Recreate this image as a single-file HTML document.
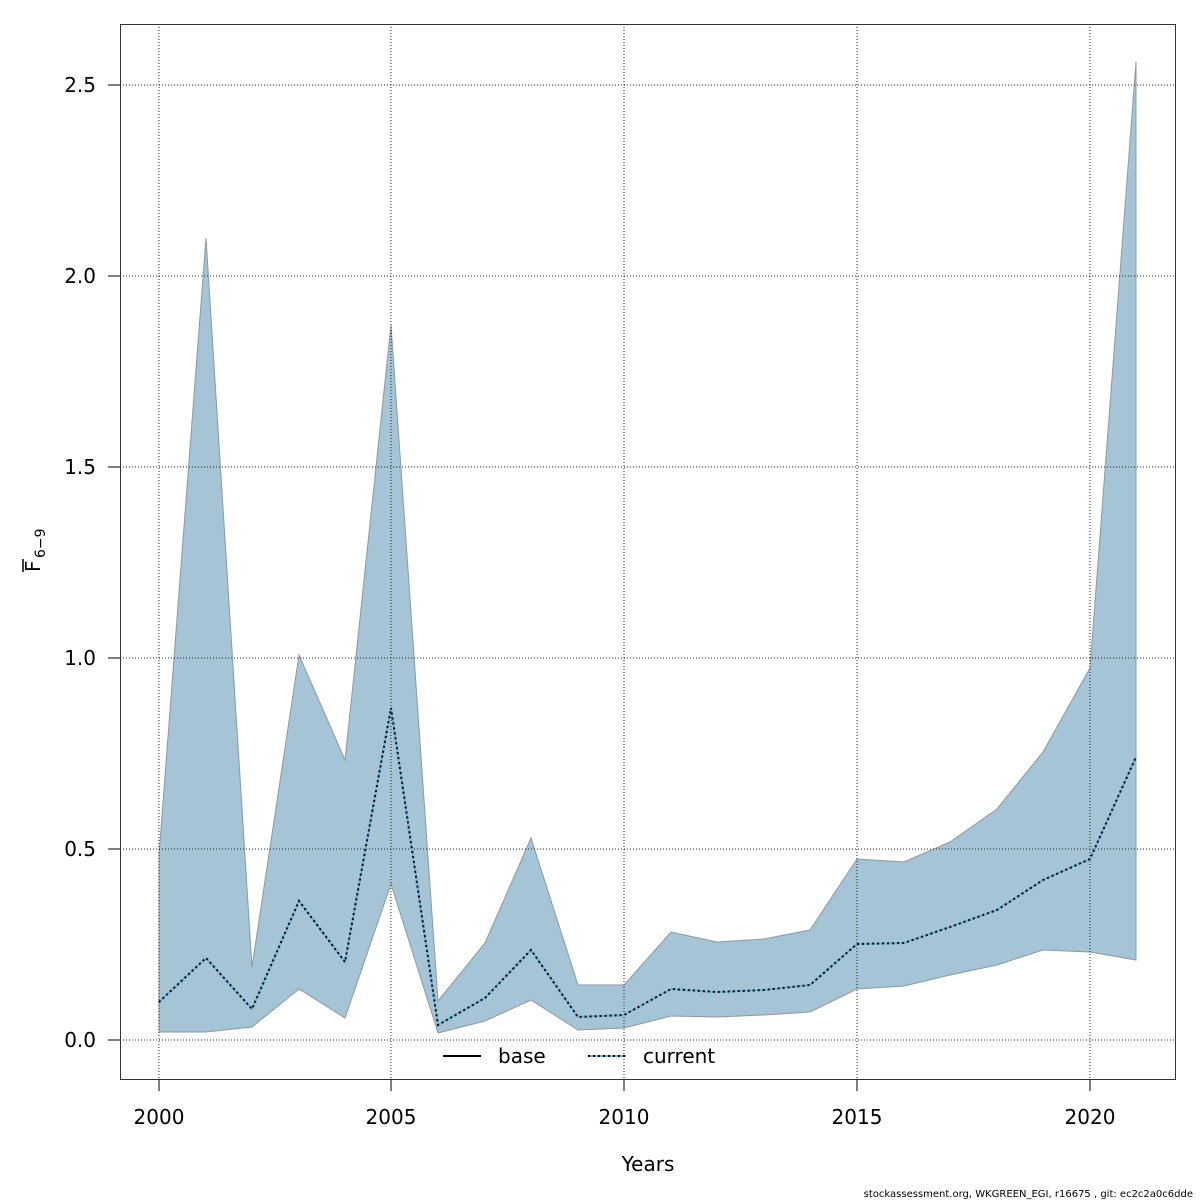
<!DOCTYPE html>
<html><head><style>html,body{margin:0;padding:0;background:#fff;overflow:hidden;width:1200px;height:1200px}svg{display:block}</style></head><body>
<svg width="1200" height="1200" xmlns="http://www.w3.org/2000/svg" font-family="DejaVu Sans, Liberation Sans, sans-serif">
<rect width="1200" height="1200" fill="#fff"/>
<polygon fill="#a5c4d5" stroke="#8a9aa4" stroke-width="1" points="159,855 206,238 252,967 299,655 345,760 391,325 438,1001 485,943 531,838 578,985 624,985 671,932 717,942 764,939 810,930 857,859 904,862 950,842 997,809 1043,752 1090,668 1136,62 1136,960 1090,952 1043,950 997,965 950,975 904,986 857,989 810,1012 764,1015 717,1017 671,1016 624,1028 578,1030 531,1000 485,1021 438,1033 391,884 345,1018 299,989 252,1027 206,1032 159,1032"/>
<g stroke="#222" stroke-width="1" stroke-dasharray="1,2">
<line x1="159" y1="24" x2="159" y2="1079"/><line x1="391" y1="24" x2="391" y2="1079"/><line x1="624" y1="24" x2="624" y2="1079"/><line x1="857" y1="24" x2="857" y2="1079"/><line x1="1090" y1="24" x2="1090" y2="1079"/>
<line x1="120" y1="1040" x2="1176" y2="1040"/><line x1="120" y1="849" x2="1176" y2="849"/><line x1="120" y1="658" x2="1176" y2="658"/><line x1="120" y1="467" x2="1176" y2="467"/><line x1="120" y1="276" x2="1176" y2="276"/><line x1="120" y1="85" x2="1176" y2="85"/>
</g>
<g fill="none" stroke-width="2">
<polyline stroke="#6ab4dc" points="159,1002 206,958 252,1009 299,901 345,962 391,708 438,1025 485,998 531,950 578,1017 624,1015 671,989 717,992 764,990 810,985 857,944 904,943 950,927 997,910 1043,880 1090,859 1136,757"/>
<polyline stroke="#000" stroke-dasharray="2,3" points="159,1002 206,958 252,1009 299,901 345,962 391,708 438,1025 485,998 531,950 578,1017 624,1015 671,989 717,992 764,990 810,985 857,944 904,943 950,927 997,910 1043,880 1090,859 1136,757"/>
</g>
<rect x="120.5" y="24.5" width="1055" height="1055" fill="none" stroke="#333" stroke-width="1"/>
<g stroke="#000" stroke-width="1">
<line x1="159" y1="1079" x2="159" y2="1091"/><line x1="391" y1="1079" x2="391" y2="1091"/><line x1="624" y1="1079" x2="624" y2="1091"/><line x1="857" y1="1079" x2="857" y2="1091"/><line x1="1090" y1="1079" x2="1090" y2="1091"/>
<line x1="108" y1="1040" x2="120" y2="1040"/><line x1="108" y1="849" x2="120" y2="849"/><line x1="108" y1="658" x2="120" y2="658"/><line x1="108" y1="467" x2="120" y2="467"/><line x1="108" y1="276" x2="120" y2="276"/><line x1="108" y1="85" x2="120" y2="85"/>
</g>
<g font-size="20" text-anchor="middle" fill="#000">
<text x="159" y="1124">2000</text><text x="391" y="1124">2005</text><text x="624" y="1124">2010</text><text x="857" y="1124">2015</text><text x="1090" y="1124">2020</text>
<text x="648" y="1171">Years</text>
</g>
<g font-size="20" text-anchor="end" fill="#000">
<text x="96" y="1047">0.0</text><text x="96" y="856">0.5</text><text x="96" y="665">1.0</text><text x="96" y="474">1.5</text><text x="96" y="283">2.0</text><text x="96" y="92">2.5</text>
</g>
<g transform="translate(40,552) rotate(-90)" fill="#000">
<text x="-20" y="0" font-size="20">F</text>
<line x1="-20" y1="-17" x2="-7" y2="-17" stroke="#000" stroke-width="1.5"/>
<text x="-6" y="5" font-size="14">6−9</text>
</g>
<line x1="443" y1="1056" x2="481" y2="1056" stroke="#000" stroke-width="2"/>
<line x1="588" y1="1056" x2="626" y2="1056" stroke="#6ab4dc" stroke-width="2"/>
<line x1="588" y1="1056" x2="626" y2="1056" stroke="#000" stroke-width="2" stroke-dasharray="2,3"/>
<text x="498" y="1063" font-size="20">base</text>
<text x="643" y="1063" font-size="20">current</text>
<text x="1193" y="1197" font-size="10" text-anchor="end">stockassessment.org, WKGREEN_EGI, r16675 , git: ec2c2a0c6dde</text>
</svg>
</body></html>
